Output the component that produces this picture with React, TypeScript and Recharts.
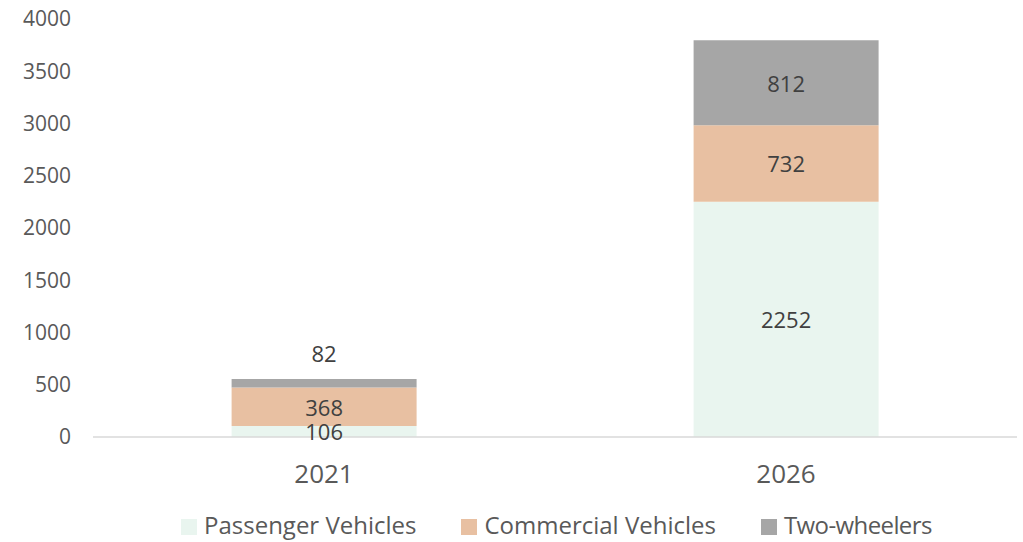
import { BarChart, Bar, XAxis, YAxis, Legend, LabelList } from 'recharts';

const YEARS = ['2021', '2026'];
const PASSENGER = [106, 2252];
const COMMERCIAL = [368, 732];
const TWO_WHEELERS = [82, 812];
const Y_TICKS = [0, 500, 1000, 1500, 2000, 2500, 3000, 3500, 4000];

const SERIES = [
  { key: 'passenger', name: 'Passenger Vehicles', color: '#E9F5EF' },
  { key: 'commercial', name: 'Commercial Vehicles', color: '#E8C0A2' },
  { key: 'twoWheelers', name: 'Two-wheelers', color: '#A6A6A6' },
];

const data = YEARS.map((year, i) => ({
  year,
  passenger: PASSENGER[i],
  commercial: COMMERCIAL[i],
  twoWheelers: TWO_WHEELERS[i],
}));

const FONT = '"Open Sans", sans-serif';

// centred value label; a segment too thin to hold it gets the label above instead
function SegmentLabel(props: any) {
  const { x, y, width, height, value } = props;
  const cx = Number(x) + Number(width) / 2;
  const cy = Number(height) < 10 ? Number(y) - 26 : Number(y) + Number(height) / 2;
  return (
    <text x={cx} y={cy} textAnchor="middle" dominantBaseline="central"
      fontFamily={FONT} fontSize={22} fill="#404040">
      {value}
    </text>
  );
}

function LegendRow() {
  return (
    <div style={{ height: 28, paddingBottom: 4, display: 'flex', paddingLeft: 181, fontFamily: FONT }}>
      {SERIES.map((s, i) => (
        <div key={s.key} style={{ display: 'flex', alignItems: 'flex-start', marginRight: i < SERIES.length - 1 ? 45 : 0 }}>
          <div style={{ width: 16, height: 16, marginTop: 9, background: s.color, marginRight: 7 }} />
          <span style={{ fontSize: 24, lineHeight: '30px', color: '#595959', whiteSpace: 'nowrap', letterSpacing: i === 2 ? -0.6 : 0 }}>{s.name}</span>
        </div>
      ))}
    </div>
  );
}

export default function App() {
  return (
    <div style={{ position: 'absolute', left: 0, top: 0, background: '#fff' }}>
      <BarChart width={1023} height={542} data={data} barCategoryGap="30%"
        margin={{ top: 19, right: 6, left: 0, bottom: 0 }}>
        <XAxis dataKey="year" axisLine={{ stroke: '#D9D9D9', strokeWidth: 1.5 }} tickLine={false}
          tickSize={0} tickMargin={28} height={73}
          tick={{ fontFamily: FONT, fontSize: 26, fill: '#595959' }} />
        <YAxis domain={[0, 4000]} ticks={Y_TICKS} axisLine={false} tickLine={false}
          tickSize={0} tickMargin={22} width={93} interval={0}
          tick={{ fontFamily: FONT, fontSize: 21, fill: '#595959' }} />
        <Legend verticalAlign="bottom" content={<LegendRow />}
          wrapperStyle={{ left: 0, width: 1023, bottom: 0 }} />
        {SERIES.map((s) => (
          <Bar key={s.key} dataKey={s.key} name={s.name} stackId="a" fill={s.color} isAnimationActive={false}>
            <LabelList dataKey={s.key} content={<SegmentLabel />} />
          </Bar>
        ))}
      </BarChart>
    </div>
  );
}
